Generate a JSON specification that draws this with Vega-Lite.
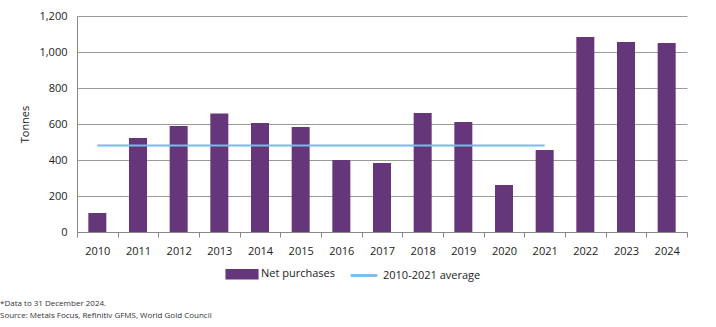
{
  "$schema": "https://vega.github.io/schema/vega-lite/v6.json",
  "width": 610,
  "height": 216,
  "autosize": {"type": "none"},
  "padding": {"left": 77, "top": 16, "right": 29, "bottom": 95},
  "background": "white",
  "config": {
    "font": "Open Sans",
    "view": {"stroke": null},
    "axis": {"labelFont": "Open Sans", "titleFont": "Open Sans", "labelColor": "#222", "titleColor": "#222", "labelFontSize": 11, "titleFontSize": 11, "titleFontWeight": "normal"},
    "legend": {"labelFont": "Open Sans", "labelFontSize": 11, "labelColor": "#222"},
    "title": {"font": "Open Sans"}
  },
  "title": {
    "text": ["*Data to 31 December 2024.", "Source: Metals Focus, Refinitiv GFMS, World Gold Council"],
    "orient": "bottom",
    "anchor": "start",
    "frame": "bounds",
    "fontSize": 8,
    "fontWeight": "normal",
    "color": "#333",
    "lineHeight": 12,
    "offset": 18,
    "dx": -20
  },
  "datasets": {
    "bars": [
      {"year": "2010", "value": 105, "series": "Net purchases"},
      {"year": "2011", "value": 522, "series": "Net purchases"},
      {"year": "2012", "value": 589, "series": "Net purchases"},
      {"year": "2013", "value": 658, "series": "Net purchases"},
      {"year": "2014", "value": 605, "series": "Net purchases"},
      {"year": "2015", "value": 583, "series": "Net purchases"},
      {"year": "2016", "value": 400, "series": "Net purchases"},
      {"year": "2017", "value": 383, "series": "Net purchases"},
      {"year": "2018", "value": 661, "series": "Net purchases"},
      {"year": "2019", "value": 611, "series": "Net purchases"},
      {"year": "2020", "value": 261, "series": "Net purchases"},
      {"year": "2021", "value": 455, "series": "Net purchases"},
      {"year": "2022", "value": 1083, "series": "Net purchases"},
      {"year": "2023", "value": 1055, "series": "Net purchases"},
      {"year": "2024", "value": 1050, "series": "Net purchases"}
    ],
    "avg": [
      {"start": "2010", "end": "2021", "value": 480, "series": "2010-2021 average"}
    ]
  },
  "encoding": {
    "y": {
      "field": "value", "type": "quantitative", "title": "Tonnes",
      "scale": {"domain": [0, 1200]},
      "axis": {"values": [0, 200, 400, 600, 800, 1000, 1200], "format": ",.0f", "grid": true, "gridColor": "#9a9a9a", "gridWidth": 1.2, "gridOpacity": 1, "domainColor": "#888", "ticks": false, "labelPadding": 10, "titlePadding": 8, "labelOverlap": false}
    }
  },
  "layer": [
    {
      "data": {"name": "bars"},
      "mark": {"type": "bar", "width": 18},
      "encoding": {
        "x": {
          "field": "year", "type": "ordinal", "title": null,
          "scale": {"paddingInner": 0, "paddingOuter": 0},
          "axis": {"labelAngle": 0, "domainColor": "#888", "tickColor": "#888", "tickBand": "extent", "tickSize": 5, "labelPadding": 8}
        },
        "color": {
          "field": "series", "type": "nominal",
          "scale": {"domain": ["Net purchases", "2010-2021 average"], "range": ["#65377a", "#74bde9"]},
          "legend": {
            "title": null, "orient": "none", "direction": "horizontal", "legendX": 148, "legendY": 241,
            "columnPadding": 12, "symbolSize": 1000, "labelOffset": 2,
            "encode": {
              "symbols": {
                "update": {
                  "shape": {"signal": "datum.value === 'Net purchases' ? 'M-1,-0.28H1V0.28H-1Z' : 'M-0.8,-0.04H0.8V0.04H-0.8Z'"},
                  "fill": {"signal": "datum.value === 'Net purchases' ? '#65377a' : '#74bde9'"},
                  "stroke": {"value": "transparent"},
                  "fillOpacity": {"value": 1}
                }
              }
            }
          }
        }
      }
    },
    {
      "data": {"name": "avg"},
      "mark": {"type": "rule", "strokeWidth": 2},
      "encoding": {
        "x": {"field": "start", "type": "ordinal"},
        "x2": {"field": "end"},
        "color": {"field": "series", "type": "nominal"}
      }
    }
  ]
}
